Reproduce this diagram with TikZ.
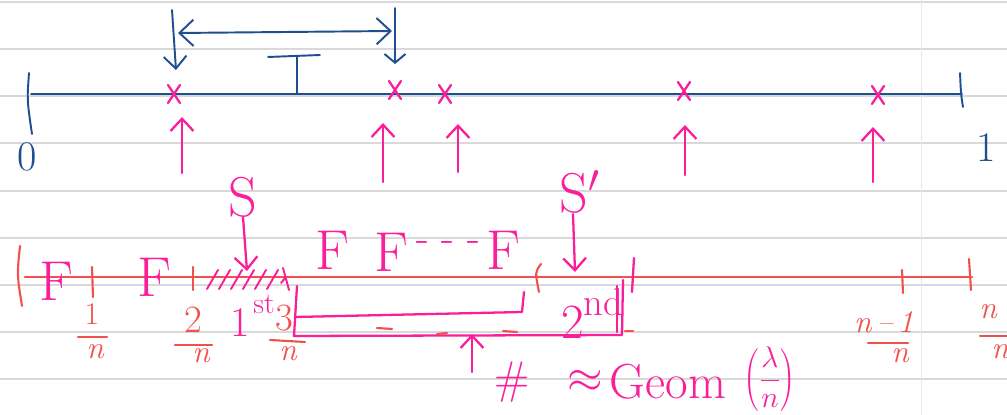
\RequirePackage{fix-cm}
\documentclass[tikz,border=0pt]{standalone}
\usetikzlibrary{arrows.meta}
\definecolor{ink}{HTML}{1D4F91}
\definecolor{pk}{HTML}{FA1E9B}
\definecolor{rd}{HTML}{F2504C}
\definecolor{rulec}{HTML}{D9D9D9}
\newcommand{\fs}[1]{\fontsize{#1}{#1}\selectfont}
\begin{document}
\begin{tikzpicture}[x=0.02cm,y=-0.02cm,
  bl/.style={draw=ink,line width=1.1pt,line cap=round,line join=round},
  pkl/.style={draw=pk,line width=1.3pt,line cap=round,line join=round},
  rdl/.style={draw=rd,line width=1.2pt,line cap=round,line join=round},
  tipb/.style={-{Straight Barb[length=7pt,width=13pt]}},
  lab/.style={inner sep=0pt,outer sep=0pt},
  bluetxt/.style={lab,text=ink,font=\fs{24}},
  pktxt/.style={lab,text=pk},
  rdtxt/.style={lab,text=rd,font=\fs{18}}]
\useasboundingbox (0,0) rectangle (1007,415);
\fill[white] (0,0) rectangle (1007,415);
% ruled paper
\foreach \y in {2,49,96,143,191,238,285,332,379}
  \draw[rulec,line width=0.8pt] (0,\y) -- (1007,\y);
\draw[rulec!60,line width=0.5pt] (921,0) -- (921,415);

% ---------- blue axis ----------
\coordinate (a0) at (31,94);
\coordinate (a1) at (962,94);
\draw[bl] (a0) -- (a1);
\draw[bl] (29,73) .. controls (27,100) .. (32,134);
\draw[bl] (960,73) .. controls (961,95) .. (963,107);
\node[bluetxt] (zero) at (27,157) {0};
\node[bluetxt] (one) at (986,148) {1};
% T
\coordinate (tt) at (297,94);
\coordinate (tb) at (297,57);
\draw[bl] (268,57) -- (320,55);
\draw[bl] (tb) -- (tt);
% interval arrow
\coordinate (tl) at (178,33);
\coordinate (tr) at (392,31);
\draw[bl,{Straight Barb[length=8pt,width=15pt]}-{Straight Barb[length=8pt,width=15pt]}] (tl) -- (tr);
\coordinate (dl0) at (172,10);
\coordinate (dl1) at (176,70);
\draw[bl,tipb] (dl0) -- (dl1);
\coordinate (dr0) at (395,8);
\coordinate (dr1) at (395,64);
\draw[bl,-{Straight Barb[length=5pt,width=12pt]}] (dr0) -- (dr1);

% pink crosses and arrows
\foreach \x/\y in {174/94,395/90,445/94,684/91,878/95}
  \draw[pkl] ({\x-6},{\y-9}) -- ({\x+6},{\y+9}) ({\x+6},{\y-9}) -- ({\x-6},{\y+9});
\foreach \x/\a/\b in {182/173/117,383/182/123,458/172/124,685/175/125,873/182/127}
  \draw[pkl,tipb] (\x,\a) -- (\x,\b);

% ---------- red axis ----------
\coordinate (r0) at (25,277);
\coordinate (r1) at (972,277);
\draw[rdl] (r0) -- (r1);
\draw[rdl] (20,246) .. controls (17,275) .. (22,306);
\draw[rdl] (92,267) -- (93,297);
\draw[rdl] (193,267) -- (193,290);
\draw[rdl] (541,264) .. controls (535,272) .. (539,292);
\draw[rdl] (902,270) -- (903,293);
\draw[rdl] (969,259) -- (971,290);
% hatching
\foreach \x in {207,219,231,243,255,267}
  \draw[pkl,line width=1.1pt] (\x,289) -- ({\x+11},270);
\draw[pkl,line width=1.1pt] (283,268) -- (289,290) (281,283) -- (286,277);

% F labels
\node[pktxt,font=\fs{32}] (F1) at (56,281) {F};
\node[pktxt,font=\fs{32}] (F2) at (154,277) {F};
\node[pktxt,font=\fs{32}] (F3) at (332,250) {F};
\node[pktxt,font=\fs{32}] (F4) at (391,252) {F};
\node[pktxt,font=\fs{24}] (dots) at (448,247) {- - -};
\node[pktxt,font=\fs{32}] (F5) at (503,250) {F};

% S arrows
\node[pktxt,font=\fs{32}] (S1) at (243,197) {S};
\coordinate (s1e) at (247,271);
\draw[pkl,tipb] (S1.south) -- (s1e);
\node[pktxt,font=\fs{32}] (S2) at (580,192) {S$'$};
\coordinate (s2s) at (573,214);
\coordinate (s2e) at (575,272);
\draw[pkl,tipb] (s2s) -- (s2e);

% ordinals
\node[pktxt,font=\fs{24}] (first) at (240,323) {1};
\node[pktxt,font=\fs{17}] (firstsup) at (264,304) {st};
\node[pktxt,font=\fs{28}] (second) at (573,322) {2};
\node[pktxt,font=\fs{22}] (secondsup) at (603,302) {nd};

% brackets
\draw[pkl] (297,286) -- (294,336) -- (622,335) -- (623,280);
\draw[pkl] (295,317) -- (522,312) -- (524,292);
\draw[pkl] (617,286) -- (617,332);
\draw[pkl] (634,258) -- (632,292);
\coordinate (u0) at (472,372);
\coordinate (u1) at (472,334);
\draw[pkl,tipb] (u0) -- (u1);
\draw[rdl] (377,328) -- (392,329);
\draw[rdl] (437,334) -- (447,333);
\draw[rdl] (503,331) -- (517,332);
\draw[rdl] (625,331) -- (633,331);

% fractions
\node[rdtxt] (n1) at (92,314) {1};
\draw[rdl] (78,337) -- (107,337);
\node[rdtxt] (d1) at (95,352) {\itshape n};
\node[rdtxt,font=\fs{22}] (n2) at (193,320) {2};
\draw[rdl] (175,345) -- (212,345);
\node[rdtxt] (d2) at (201,356) {\itshape n};
\node[rdtxt,font=\fs{22}] (n3) at (284,318) {3};
\draw[rdl] (270,340) -- (305,342);
\node[rdtxt] (d3) at (288,354) {\itshape n};
\node[rdtxt] (n4) at (884,322) {\itshape n\,--\,1};
\draw[rdl] (868,343) -- (908,343);
\node[rdtxt] (d4) at (900,356) {\itshape n};
\node[rdtxt] (n5) at (988,312) {\itshape n};
\draw[rdl] (980,336) -- (1007,336);
\node[rdtxt] (d5) at (1000,352) {\itshape n};

% Geom
\node[pktxt,font=\fs{26}] (hash) at (512,382) {\#};
\node[pktxt,font=\fs{26}] (approx) at (585,381) {$\approx$};
\node[pktxt,font=\fs{28}] (geom) at (668,382) {Geom};
\node[pktxt,font=\fs{17}] (frac) at (770,379) {$\left(\displaystyle\frac{\lambda}{n}\right)$};
\end{tikzpicture}
\end{document}
